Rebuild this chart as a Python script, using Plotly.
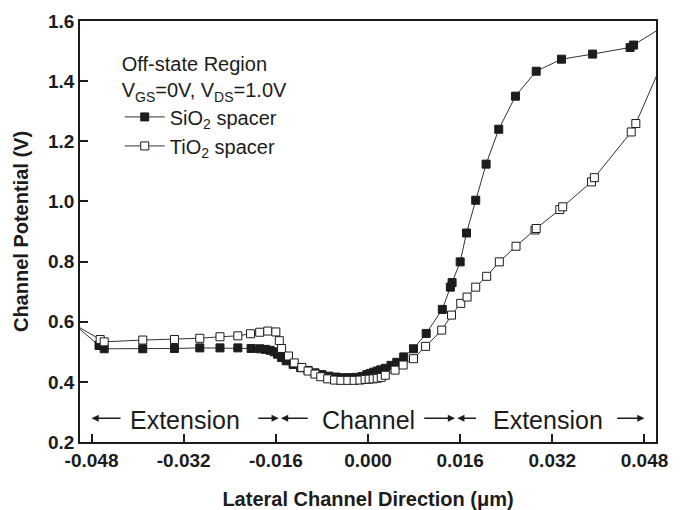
import plotly.graph_objects as go

# ---- data ----
x_sio2 = [-0.0520, -0.0467, -0.0458, -0.0391, -0.0336, -0.0292, -0.0257, -0.0226, -0.0203,
          -0.0188, -0.0178, -0.0170, -0.0163, -0.0157, -0.0150, -0.0142, -0.0130, -0.0117,
          -0.0104, -0.0092, -0.0080, -0.0068, -0.0056, -0.0044, -0.0032, -0.0020, -0.0010,
          -0.0002, 0.0004, 0.0010, 0.0016, 0.0022, 0.0030, 0.0040, 0.0050, 0.0062, 0.0079,
          0.0101, 0.0129, 0.0143, 0.0146, 0.0160, 0.0171, 0.0187, 0.0205, 0.0227, 0.0256,
          0.0292, 0.0336, 0.0390, 0.0455, 0.0461, 0.0520]
y_sio2 = [0.607, 0.521, 0.510, 0.510, 0.511, 0.513, 0.513, 0.513, 0.511,
          0.510, 0.508, 0.505, 0.500, 0.492, 0.481, 0.470, 0.458, 0.447,
          0.438, 0.430, 0.424, 0.419, 0.416, 0.414, 0.414, 0.415, 0.418,
          0.424, 0.428, 0.432, 0.436, 0.440, 0.445, 0.455, 0.465, 0.483, 0.510,
          0.561, 0.641, 0.715, 0.730, 0.799, 0.895, 1.004, 1.124, 1.240, 1.350,
          1.433, 1.473, 1.490, 1.512, 1.520, 1.590]

x_tio2 = [-0.0520, -0.0465, -0.0458, -0.0391, -0.0336, -0.0292, -0.0257, -0.0226, -0.0204,
          -0.0188, -0.0174, -0.0160, -0.0154, -0.0150, -0.0138, -0.0128, -0.0115, -0.0104,
          -0.0092, -0.0082, -0.0070, -0.0058, -0.0047, -0.0035, -0.0024, -0.0014, -0.0005,
          0.0002, 0.0009, 0.0016, 0.0023, 0.0030, 0.0047, 0.0061, 0.0079, 0.0100, 0.0128,
          0.0145, 0.0161, 0.0172, 0.0187, 0.0206, 0.0228, 0.0257, 0.0290, 0.0292, 0.0333,
          0.0338, 0.0388, 0.0393, 0.0457, 0.0465, 0.0520]
y_tio2 = [0.602, 0.541, 0.533, 0.539, 0.541, 0.545, 0.550, 0.553, 0.560,
          0.565, 0.569, 0.566, 0.537, 0.511, 0.486, 0.463, 0.448, 0.436,
          0.426, 0.417, 0.410, 0.406, 0.405, 0.405, 0.405, 0.406, 0.408,
          0.409, 0.410, 0.412, 0.415, 0.422, 0.439, 0.456, 0.477, 0.518, 0.572,
          0.622, 0.661, 0.682, 0.715, 0.751, 0.799, 0.851, 0.905, 0.910, 0.973,
          0.982, 1.065, 1.079, 1.231, 1.259, 1.502]

x_ticks = [-0.048, -0.032, -0.016, 0.000, 0.016, 0.032, 0.048]
x_ticklabels = ["-0.048", "-0.032", "-0.016", "0.000", "0.016", "0.032", "0.048"]
y_ticks = [0.2, 0.4, 0.6, 0.8, 1.0, 1.2, 1.4, 1.6]
y_ticklabels = ["0.2", "0.4", "0.6", "0.8", "1.0", "1.2", "1.4", "1.6"]

region_names = ["Extension", "Channel", "Extension"]
region_centers = [-0.0318, 0.0000, 0.0312]
# (arrow tip, arrow tail) along the region band
region_arrow_tips = [-0.0480, -0.0155, -0.0151, 0.0151, 0.0155, 0.0480]
region_arrow_tails = [-0.0427, -0.0193, -0.0102, 0.0095, 0.0190, 0.0430]

FONT = "Liberation Sans, Arial, sans-serif"
INK = "#1c1c1c"

fig = go.Figure()
fig.add_trace(go.Scatter(
    x=x_sio2, y=y_sio2, mode="lines+markers",
    name="SiO<sub>2</sub> spacer",
    line=dict(color="#333333", width=1),
    marker=dict(symbol="square", size=8, color=INK, line=dict(color=INK, width=1)),
))
fig.add_trace(go.Scatter(
    x=x_tio2, y=y_tio2, mode="lines+markers",
    name="TiO<sub>2</sub> spacer",
    line=dict(color="#333333", width=1),
    marker=dict(symbol="square", size=8, color="white", line=dict(color=INK, width=1)),
))

band_y = 0.279
for name, cx in zip(region_names, region_centers):
    fig.add_annotation(x=cx, y=band_y - 0.006, text=name, showarrow=False,
                       font=dict(family=FONT, size=25, color=INK),
                       xanchor="center", yanchor="middle")
for tip, tail in zip(region_arrow_tips, region_arrow_tails):
    fig.add_annotation(x=tip, y=band_y, ax=tail, ay=band_y, axref="x", ayref="y",
                       xref="x", yref="y", text="", showarrow=True,
                       arrowhead=2, arrowsize=1.1, arrowwidth=1.3, arrowcolor=INK,
                       standoff=0, startstandoff=0)

fig.update_xaxes(
    range=[-0.05, 0.05], tickvals=x_ticks, ticktext=x_ticklabels,
    ticks="inside", ticklen=8, tickwidth=1.5, tickcolor=INK,
    showline=True, linecolor=INK, linewidth=1.5, mirror=True,
    showgrid=False, zeroline=False, automargin=False,
    tickfont=dict(family=FONT, size=19, color=INK, weight="bold"),
    title=dict(text="Lateral Channel Direction (μm)", standoff=22,
               font=dict(family=FONT, size=20, color=INK, weight="bold")),
)
fig.update_yaxes(
    range=[0.2, 1.6], tickvals=y_ticks, ticktext=y_ticklabels,
    ticks="inside", ticklen=8, tickwidth=1.5, tickcolor=INK,
    showline=True, linecolor=INK, linewidth=1.5, mirror=True,
    showgrid=False, zeroline=False, automargin=False,
    tickfont=dict(family=FONT, size=19, color=INK, weight="bold"),
    title=dict(text="Channel Potential (V)", standoff=14,
               font=dict(family=FONT, size=20, color=INK, weight="bold")),
)

fig.update_layout(
    width=684, height=510,
    margin=dict(l=80, r=28, t=21, b=68),
    paper_bgcolor="white", plot_bgcolor="white",
    font=dict(family=FONT, color=INK),
    legend=dict(
        x=0.069, y=0.942, xanchor="left", yanchor="top",
        bgcolor="rgba(0,0,0,0)", borderwidth=0,
        font=dict(family=FONT, size=20, color=INK),
        title=dict(text="Off-state Region<br>V<sub>GS</sub>=0V, V<sub>DS</sub>=1.0V",
                   font=dict(family=FONT, size=20, color=INK)),
        itemwidth=40, tracegroupgap=0,
    ),
)

fig.write_html("out.html")
